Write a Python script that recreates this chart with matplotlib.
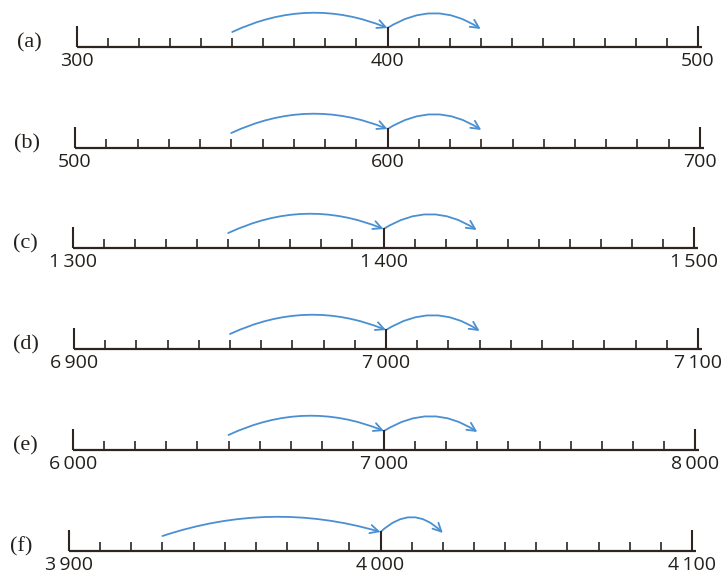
import matplotlib
matplotlib.use("Agg")
import matplotlib.pyplot as plt
from matplotlib.patches import FancyArrowPatch
import numpy as np

# ---- data ----
panel_labels = ["(a)", "(b)", "(c)", "(d)", "(e)", "(f)"]
line_starts = [300, 500, 1300, 6900, 6000, 3900]
line_mids = [400, 600, 1400, 7000, 7000, 4000]
line_ends = [500, 700, 1500, 7100, 8000, 4100]
tick_steps = [10, 10, 10, 10, 100, 10]
jump_from = [350, 550, 1350, 6950, 6500, 3930]
jump_to = [430, 630, 1430, 7030, 7300, 4020]
start_labels = ["300", "500", "1\u2009300", "6\u2009900", "6\u2009000", "3\u2009900"]
mid_labels = ["400", "600", "1\u2009400", "7\u2009000", "7\u2009000", "4\u2009000"]
end_labels = ["500", "700", "1\u2009500", "7\u2009100", "8\u2009000", "4\u2009100"]

# ---- layout (pixels) ----
W, H = 723, 575
px_start = [77, 75, 73, 74, 73, 69]
px_end = [698, 700, 694, 698, 695, 692]
px_axis_y = [47, 148, 248, 349, 450, 551]

AXIS_COL = "#2e2420"
ARROW_COL = "#4a8fd2"
FONT = ["Open Sans", "DejaVu Sans"]
SERIF = ["Liberation Serif", "DejaVu Serif"]

fig = plt.figure(figsize=(W / 100, H / 100), dpi=100)
fig.patch.set_facecolor("white")

for i in range(6):
    ya = px_axis_y[i]
    ax = fig.add_axes([0, 1 - (ya + 50) / H, 1, 100 / H])
    ax.axis("off")
    ax.patch.set_visible(False)
    s, e = line_starts[i], line_ends[i]
    slope = (e - s) / (px_end[i] - px_start[i])
    ax.set_xlim(s - px_start[i] * slope, s + (W - px_start[i]) * slope)
    ax.set_ylim(-50, 50)  # 1 unit = 1 pixel, 0 at the number line

    # main line
    ax.plot([s, e + 4 * slope], [0, 0], color=AXIS_COL, lw=1.6,
            solid_capstyle="butt", clip_on=False)
    # minor ticks
    ticks = np.arange(s, e + tick_steps[i] / 2, tick_steps[i])
    minor = [t for t in ticks if t not in (s, line_mids[i], e)]
    ax.vlines(minor, 0, 9, color=AXIS_COL, lw=1.2, clip_on=False)
    ax.vlines([s, e], 0, 21, color=AXIS_COL, lw=1.5, clip_on=False)
    ax.vlines([line_mids[i]], 0, 20, color=AXIS_COL, lw=1.5, clip_on=False)

    # tick labels
    for val, lab in zip([s, line_mids[i], e],
                        [start_labels[i], mid_labels[i], end_labels[i]]):
        ax.text(val, -14, lab, ha="center", va="center", fontsize=14,
                family=FONT, color="#231f1c", clip_on=False)
    # panel label
    ax.text(s - 48 * slope, 4, panel_labels[i], ha="center", va="center",
            fontsize=16, family=SERIF, color="#231f1c", clip_on=False)

    # arrows
    def add_arc(x0, y0, x1, y1, rise):
        dx_px = (x1 - x0) / slope
        rad = -2 * rise / dx_px
        arr = FancyArrowPatch((x0, y0), (x1, y1),
                              connectionstyle=f"arc3,rad={rad:.3f}",
                              arrowstyle="->,head_length=6,head_width=3",
                              color=ARROW_COL, lw=1.3, shrinkA=0, shrinkB=0,
                              clip_on=False)
        ax.add_patch(arr)

    add_arc(jump_from[i], 15, line_mids[i], 19, 17)
    add_arc(line_mids[i], 19, jump_to[i], 18, 15)

fig.savefig("out.png", dpi=100, facecolor="white")
